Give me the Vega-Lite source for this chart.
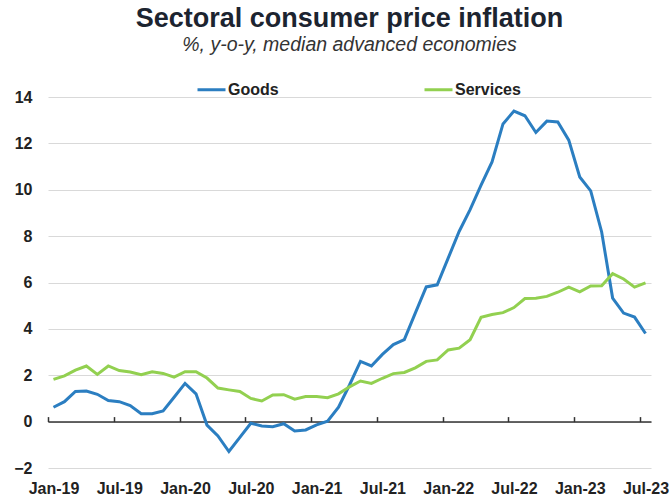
{
  "$schema": "https://vega.github.io/schema/vega-lite/v6.json",
  "width": 603,
  "height": 371,
  "autosize": "none",
  "padding": {"left": 48, "top": 97, "right": 19, "bottom": 34},
  "background": "white",
  "config": {"font": "Liberation Sans", "view": {"stroke": null}},
  "title": {
    "text": "Sectoral consumer price inflation",
    "subtitle": "%, y-o-y, median advanced economies",
    "fontSize": 27,
    "fontWeight": "bold",
    "color": "#1c2430",
    "subtitleFontSize": 19.5,
    "subtitleFontStyle": "italic",
    "subtitleColor": "#333333",
    "anchor": "middle",
    "offset": 19,
    "subtitlePadding": 3
  },
  "data": {"values": [
    {"month": "Jan-19", "Goods": 0.62, "Services": 1.82},
    {"month": "Feb-19", "Goods": 0.86, "Services": 1.97},
    {"month": "Mar-19", "Goods": 1.30, "Services": 2.22},
    {"month": "Apr-19", "Goods": 1.32, "Services": 2.40},
    {"month": "May-19", "Goods": 1.18, "Services": 2.04},
    {"month": "Jun-19", "Goods": 0.91, "Services": 2.40},
    {"month": "Jul-19", "Goods": 0.86, "Services": 2.20},
    {"month": "Aug-19", "Goods": 0.69, "Services": 2.14},
    {"month": "Sep-19", "Goods": 0.34, "Services": 2.02},
    {"month": "Oct-19", "Goods": 0.34, "Services": 2.15},
    {"month": "Nov-19", "Goods": 0.46, "Services": 2.08},
    {"month": "Dec-19", "Goods": 1.05, "Services": 1.92},
    {"month": "Jan-20", "Goods": 1.65, "Services": 2.15},
    {"month": "Feb-20", "Goods": 1.20, "Services": 2.15},
    {"month": "Mar-20", "Goods": -0.15, "Services": 1.88},
    {"month": "Apr-20", "Goods": -0.62, "Services": 1.45},
    {"month": "May-20", "Goods": -1.29, "Services": 1.37},
    {"month": "Jun-20", "Goods": -0.68, "Services": 1.30},
    {"month": "Jul-20", "Goods": -0.07, "Services": 1.00},
    {"month": "Aug-20", "Goods": -0.19, "Services": 0.89},
    {"month": "Sep-20", "Goods": -0.22, "Services": 1.15},
    {"month": "Oct-20", "Goods": -0.09, "Services": 1.16},
    {"month": "Nov-20", "Goods": -0.40, "Services": 0.97},
    {"month": "Dec-20", "Goods": -0.36, "Services": 1.08},
    {"month": "Jan-21", "Goods": -0.14, "Services": 1.08},
    {"month": "Feb-21", "Goods": 0.02, "Services": 1.03},
    {"month": "Mar-21", "Goods": 0.62, "Services": 1.20},
    {"month": "Apr-21", "Goods": 1.58, "Services": 1.50},
    {"month": "May-21", "Goods": 2.60, "Services": 1.75},
    {"month": "Jun-21", "Goods": 2.40, "Services": 1.65},
    {"month": "Jul-21", "Goods": 2.90, "Services": 1.87},
    {"month": "Aug-21", "Goods": 3.32, "Services": 2.07},
    {"month": "Sep-21", "Goods": 3.54, "Services": 2.12},
    {"month": "Oct-21", "Goods": 4.68, "Services": 2.32},
    {"month": "Nov-21", "Goods": 5.81, "Services": 2.60},
    {"month": "Dec-21", "Goods": 5.90, "Services": 2.66},
    {"month": "Jan-22", "Goods": 7.05, "Services": 3.09},
    {"month": "Feb-22", "Goods": 8.20, "Services": 3.17},
    {"month": "Mar-22", "Goods": 9.14, "Services": 3.53},
    {"month": "Apr-22", "Goods": 10.20, "Services": 4.50},
    {"month": "May-22", "Goods": 11.20, "Services": 4.62},
    {"month": "Jun-22", "Goods": 12.84, "Services": 4.70},
    {"month": "Jul-22", "Goods": 13.39, "Services": 4.92},
    {"month": "Aug-22", "Goods": 13.19, "Services": 5.31},
    {"month": "Sep-22", "Goods": 12.47, "Services": 5.32},
    {"month": "Oct-22", "Goods": 12.96, "Services": 5.40},
    {"month": "Nov-22", "Goods": 12.92, "Services": 5.58},
    {"month": "Dec-22", "Goods": 12.14, "Services": 5.80},
    {"month": "Jan-23", "Goods": 10.55, "Services": 5.60},
    {"month": "Feb-23", "Goods": 9.95, "Services": 5.85},
    {"month": "Mar-23", "Goods": 8.18, "Services": 5.86},
    {"month": "Apr-23", "Goods": 5.33, "Services": 6.38},
    {"month": "May-23", "Goods": 4.68, "Services": 6.15},
    {"month": "Jun-23", "Goods": 4.51, "Services": 5.80},
    {"month": "Jul-23", "Goods": 3.80, "Services": 5.98}
  ]},
  "transform": [{"fold": ["Goods", "Services"], "as": ["series", "value"]}],
  "mark": {"type": "line", "strokeWidth": 3},
  "encoding": {
    "x": {
      "field": "month",
      "type": "ordinal",
      "sort": null,
      "scale": {"type": "point", "padding": 0.5},
      "axis": {
        "title": null,
        "values": ["Jan-19", "Jul-19", "Jan-20", "Jul-20", "Jan-21", "Jul-21", "Jan-22", "Jul-22", "Jan-23", "Jul-23"],
        "offset": -46.4,
        "domainColor": "#333333",
        "domainWidth": 1.5,
        "ticks": true,
        "tickSize": -5,
        "tickColor": "#333333",
        "tickWidth": 1.5,
        "tickOffset": -5.48,
        "labelOffset": 5.48,
        "labelAngle": 0,
        "labelFontSize": 16,
        "labelFontWeight": "bold",
        "labelColor": "#222222",
        "labelPadding": 64,
        "labelOverlap": false,
        "grid": false
      }
    },
    "y": {
      "field": "value",
      "type": "quantitative",
      "scale": {"domain": [-2, 14], "nice": false, "zero": false},
      "axis": {
        "title": null,
        "values": [-2, 0, 2, 4, 6, 8, 10, 12, 14],
        "domain": false,
        "ticks": false,
        "grid": true,
        "gridColor": "#d9d9d9",
        "gridWidth": 1,
        "labelFontSize": 16,
        "labelFontWeight": "bold",
        "labelColor": "#222222",
        "labelPadding": 16
      }
    },
    "color": {
      "field": "series",
      "type": "nominal",
      "scale": {"domain": ["Goods", "Services"], "range": ["#2B7EC1", "#92D050"]},
      "legend": {
        "title": null,
        "orient": "none",
        "legendX": 148,
        "legendY": -23,
        "direction": "horizontal",
        "symbolType": "stroke",
        "symbolSize": 784,
        "symbolStrokeWidth": 3,
        "labelFontSize": 16,
        "labelFontWeight": "bold",
        "labelColor": "#222222",
        "labelOffset": 1,
        "columnPadding": 139
      }
    }
  }
}
